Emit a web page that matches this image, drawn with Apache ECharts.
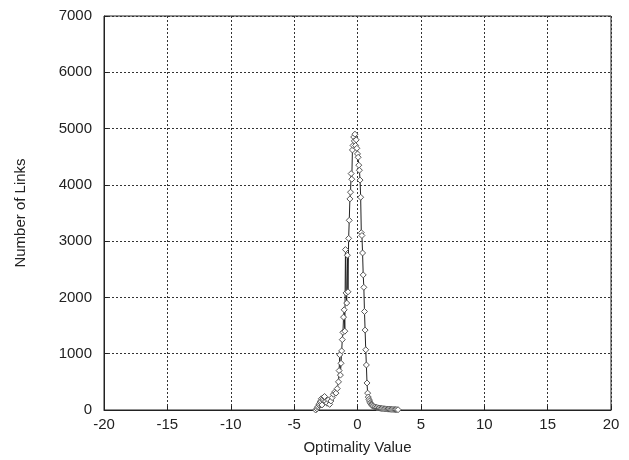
<!DOCTYPE html>
<html>
<head>
<meta charset="utf-8">
<script src="https://cdn.jsdelivr.net/npm/echarts@6/dist/echarts.min.js"></script>
<style>
html, body { margin: 0; padding: 0; background: #fff; }
#main { width: 629px; height: 460px; }
</style>
</head>
<body>
<div id="main"></div>
<script>
// optimality value (x) and number of links (y)
var optValues = [-3.3, -3.2, -3.15, -3.1, -3.05, -3.0, -2.95, -2.9, -2.85, -2.8, -2.75, -2.7, -2.65, -2.6,
    -2.5, -2.4, -2.3, -2.2, -2.1, -2.0,
    -1.9, -1.8, -1.7, -1.6, -1.5, -1.45, -1.4, -1.35, -1.3, -1.25, -1.2, -1.15, -1.1, -1.05, -1.0,
    -0.95, -0.9, -0.85, -0.8, -0.75, -0.7, -0.65, -0.6, -0.55, -0.5, -0.45, -0.4, -0.35, -0.3, -0.25,
    -0.2, -0.15, -0.1, -0.05, 0.0, 0.05, 0.1, 0.15, 0.2, 0.25, 0.3, 0.35, 0.4, 0.45, 0.5, 0.55, 0.6,
    0.65, 0.7, 0.75, 0.8, 0.85, 0.9, 0.95, 1.0, 1.05, 1.1, 1.15, 1.2, 1.3, 1.4, 1.5, 1.6, 1.7, 1.8, 1.9,
    2.0, 2.1, 2.2, 2.3, 2.4, 2.5, 2.6, 2.7, 2.8, 2.9, 3.0, 3.1, 3.2];
var linkCounts = [0, 20, 50, 60, 90, 110, 140, 160, 200, 90, 180, 200, 230, 240,
    150, 120, 180, 100, 160, 220,
    280, 320, 300, 380, 500, 700, 980, 620, 830, 1050, 1250, 1380, 1650, 1780, 1400,
    2850, 2080, 1900, 2750, 2100, 3050, 3370, 3750, 3870, 4200, 4100, 4620, 4700, 4850, 4780,
    4900, 4700, 4800, 4650, 4550, 4490, 4350, 4260, 4085, 3780, 3150, 3100, 2790, 2400, 2180, 1750, 1420,
    1070, 800, 480, 300, 230, 190, 160, 130, 110, 95, 85, 70, 60, 52, 45, 40, 35, 30, 28,
    25, 22, 20, 18, 16, 15, 13, 12, 10, 9, 8, 6, 5];
var xTicks = [-20, 20, 5];
var yTicks = [0, 7000, 1000];

var points = optValues.map(function (v, i) { return [v, linkCounts[i]]; });

var myChart = echarts.init(document.getElementById('main'));
var labelFont = { color: '#222', fontSize: 15, fontFamily: 'Liberation Sans, Arial, sans-serif' };
var gridLine = { show: true, lineStyle: { color: '#333', width: 1, type: [2, 2] } };

myChart.setOption({
    animation: false,
    grid: {
        left: 104, right: 18, top: 16, bottom: 50,
        show: true, borderColor: '#222', borderWidth: 1, backgroundColor: 'transparent'
    },
    xAxis: {
        type: 'value',
        min: xTicks[0], max: xTicks[1], interval: xTicks[2],
        name: 'Optimality Value', nameLocation: 'middle', nameGap: 30,
        nameTextStyle: labelFont,
        axisLine: { show: true, onZero: false, lineStyle: { color: '#222' } },
        axisTick: { show: true, inside: true, length: 4, lineStyle: { color: '#222' } },
        axisLabel: Object.assign({ margin: 7 }, labelFont),
        splitLine: gridLine
    },
    yAxis: {
        type: 'value',
        min: yTicks[0], max: yTicks[1], interval: yTicks[2],
        name: 'Number of Links', nameLocation: 'middle', nameGap: 76,
        nameTextStyle: labelFont,
        axisLine: { show: true, onZero: false, lineStyle: { color: '#222' } },
        axisTick: { show: true, inside: true, length: 4, lineStyle: { color: '#222' } },
        axisLabel: Object.assign({ margin: 12, formatter: function (v) { return String(v); } }, labelFont),
        splitLine: gridLine
    },
    series: [{
        type: 'line',
        data: points,
        symbol: 'diamond',
        symbolSize: 6,
        showSymbol: true,
        lineStyle: { color: '#222', width: 1 },
        itemStyle: { color: '#fff', borderColor: '#555', borderWidth: 1 }
    }]
});
</script>
</body>
</html>
